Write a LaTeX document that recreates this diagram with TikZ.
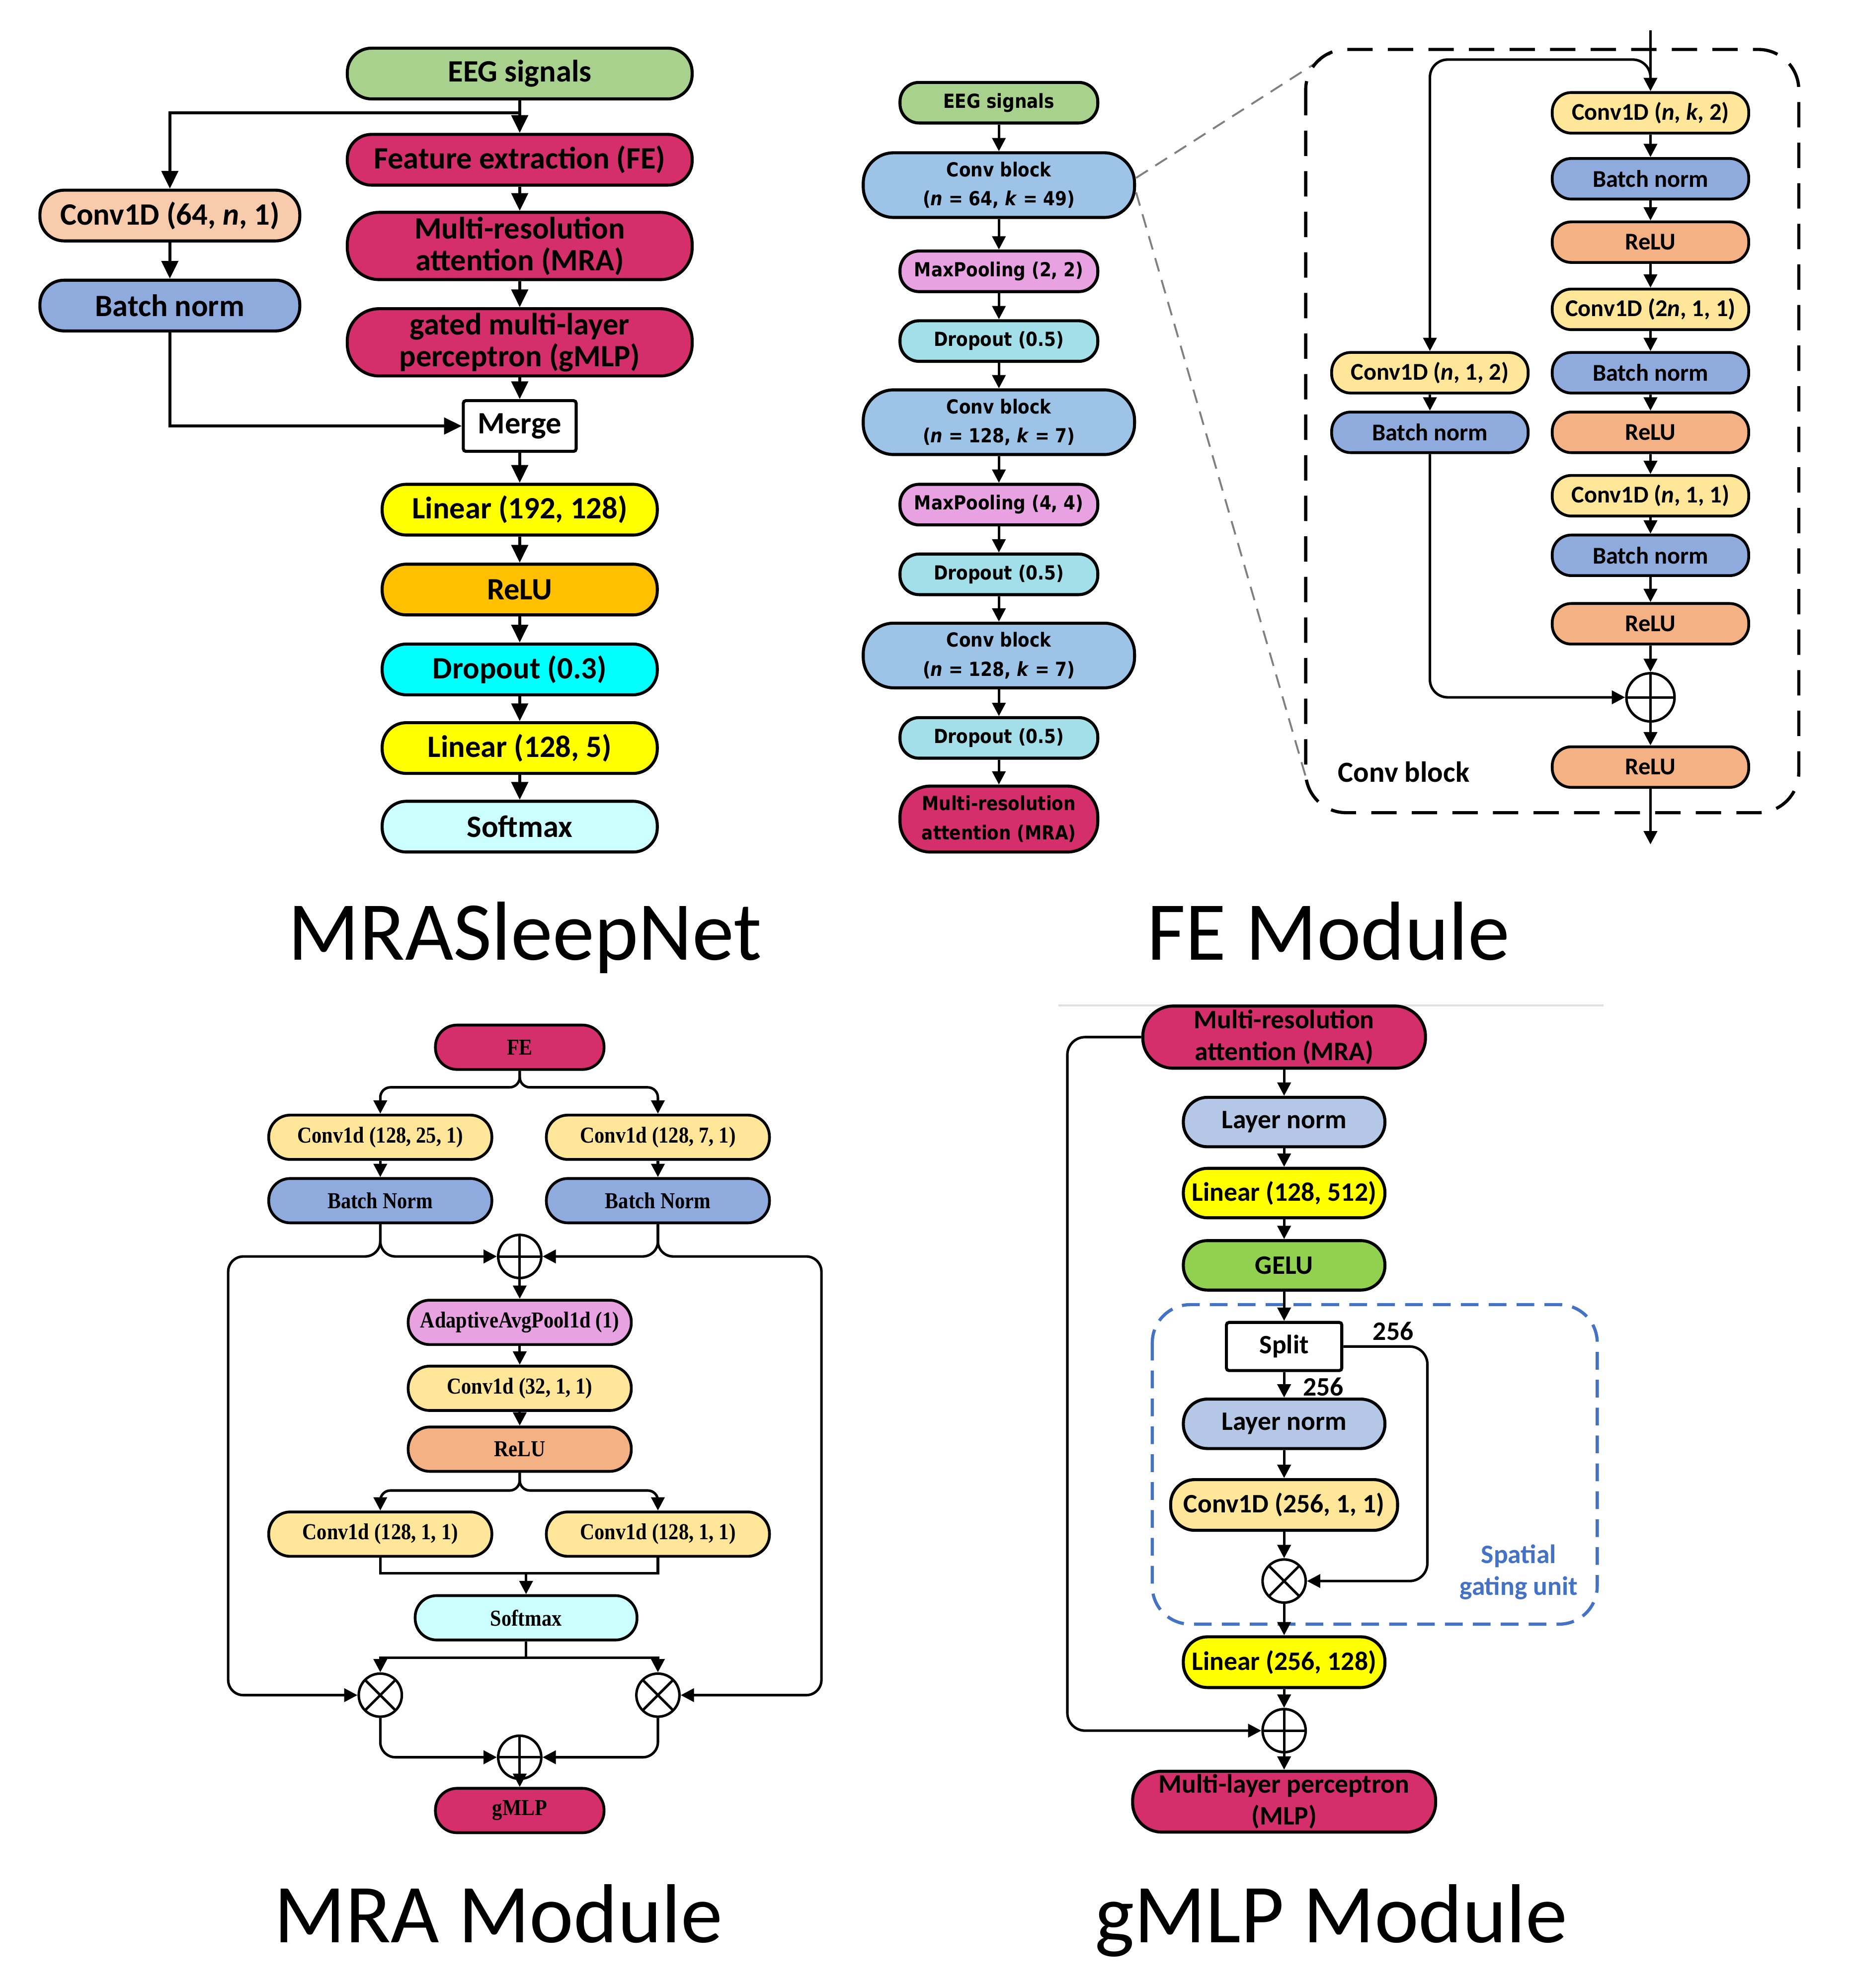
\documentclass[tikz,border=0pt]{standalone}
\usepackage{fontspec}
\usetikzlibrary{arrows.meta}
\newfontfamily\calib{Carlito}
\newfontfamily\dvsans[FakeStretch=0.88]{DejaVu Sans}
\newfontfamily\tms[FakeStretch=0.88]{Liberation Serif}

\definecolor{eeggreen}{HTML}{A9D18E}
\definecolor{crimson}{HTML}{D42F6B}
\definecolor{peach}{HTML}{F8CBAD}
\definecolor{bnblue}{HTML}{8FAADC}
\definecolor{convblue}{HTML}{9DC3E6}
\definecolor{reluorange}{HTML}{FFC000}
\definecolor{linyellow}{HTML}{FFFF00}
\definecolor{dropcyan}{HTML}{00FFFF}
\definecolor{softcyan}{HTML}{CCFFFF}
\definecolor{poolpink}{HTML}{E8A2E2}
\definecolor{dropteal}{HTML}{A3DFE8}
\definecolor{convyellow}{HTML}{FFE699}
\definecolor{relupeach}{HTML}{F4B183}
\definecolor{lnblue}{HTML}{B4C7E7}
\definecolor{gelugreen}{HTML}{92D050}
\definecolor{sgublue}{HTML}{4472C4}

\tikzset{
  pill/.style={draw=black, line width=2.4pt, inner sep=0pt, align=center, text=black},
  fA/.style={font=\calib\bfseries\fontsize{24.5pt}{25pt}\selectfont},
  fB/.style={font=\dvsans\bfseries\fontsize{15.3pt}{23pt}\selectfont},
  fC/.style={font=\calib\bfseries\fontsize{19pt}{22pt}\selectfont},
  fD/.style={font=\tms\bfseries\fontsize{18pt}{20pt}\selectfont},
  fE/.style={font=\calib\bfseries\fontsize{21pt}{25pt}\selectfont},
  ftitle/.style={font=\calib\fontsize{66pt}{70pt}\selectfont},
  pA/.style={pill, fA, minimum width=272pt, minimum height=40pt, rounded corners=19pt},
  pB/.style={pill, fB, minimum width=156pt, minimum height=32pt, rounded corners=15pt},
  pC/.style={pill, fC, line width=2.2pt, minimum width=155pt, minimum height=32pt, rounded corners=15pt},
  pD/.style={pill, fD, line width=2.2pt, minimum width=176pt, minimum height=35pt, rounded corners=17pt},
  pE/.style={pill, fE, minimum width=159pt, minimum height=39pt, rounded corners=19pt},
  arA/.style={line width=2.5pt, -{Triangle[length=14pt,width=13pt]}},
  lnA/.style={line width=2.5pt},
  arB/.style={line width=2pt, -{Triangle[length=10.5pt,width=10.5pt]}},
  lnB/.style={line width=2pt},
  sumnode/.style={draw=black, circle, line width=2pt, minimum size=#1, inner sep=0pt, fill=white,
    path picture={\draw[line width=2pt] (path picture bounding box.west) -- (path picture bounding box.east)
      (path picture bounding box.north) -- (path picture bounding box.south);}},
  sumnode/.default=34pt,
  prodnode/.style={draw=black, circle, line width=2pt, minimum size=#1, inner sep=0pt, fill=white,
    path picture={\draw[line width=2pt] (path picture bounding box.north west) -- (path picture bounding box.south east)
      (path picture bounding box.north east) -- (path picture bounding box.south west);}},
  prodnode/.default=34pt
}

\begin{document}
\begin{tikzpicture}[x=1pt, y=-1pt]
    \useasboundingbox (0,0) rectangle (1460,1568);

    % ---------------- MRASleepNet ----------------
    \node[pA, fill=eeggreen] (EEG) at (410,58) {EEG signals};
    \node[pA, fill=crimson] (FE) at (410,126) {Feature extraction (FE)};
    \node[pA, fill=crimson, minimum height=53pt, rounded corners=25pt] (MRA) at (410,194) {Multi-resolution\\attention (MRA)};
    \node[pA, fill=crimson, minimum height=53pt, rounded corners=25pt] (GMLP) at (410,270) {gated multi-layer\\perceptron (gMLP)};
    \node[pA, fill=white, minimum width=89pt, rounded corners=2pt] (Merge) at (410,336) {Merge};
    \node[pA, fill=linyellow, minimum width=217pt] (Lin1) at (410,402) {Linear (192, 128)};
    \node[pA, fill=reluorange, minimum width=217pt] (Relu) at (410,465) {ReLU};
    \node[pA, fill=dropcyan, minimum width=217pt] (Drop) at (410,528) {Dropout (0.3)};
    \node[pA, fill=linyellow, minimum width=217pt] (Lin2) at (410,590) {Linear (128, 5)};
    \node[pA, fill=softcyan, minimum width=217pt] (Soft) at (410,652) {Softmax};
    \node[pA, fill=peach, minimum width=205pt] (Conv) at (134,170) {Conv1D (64, \textit{n}, 1)};
    \node[pA, fill=bnblue, minimum width=205pt] (BN) at (134,241) {Batch norm};
    \coordinate (split0) at (410,89);

    \draw[arA] (EEG) -- (FE);
    \draw[arA] (split0) -| (Conv);
    \draw[arA] (Conv) -- (BN);
    \draw[arA] (BN) |- (Merge);
    \draw[arA] (FE) -- (MRA);
    \draw[arA] (MRA) -- (GMLP);
    \draw[arA] (GMLP) -- (Merge);
    \draw[arA] (Merge) -- (Lin1);
    \draw[arA] (Lin1) -- (Relu);
    \draw[arA] (Relu) -- (Drop);
    \draw[arA] (Drop) -- (Lin2);
    \draw[arA] (Lin2) -- (Soft);

    \node[ftitle, anchor=base] (tMain) at (414,757) {MRASleepNet};

    % ---------------- FE Module ----------------
    \node[pB, fill=eeggreen] (FEin) at (788,81) {EEG signals};
    \node[pB, fill=convblue, minimum width=214pt, minimum height=51pt, rounded corners=24pt] (CB1) at (788,146) {Conv block\\(\textit{n} = 64, \textit{k} = 49)};
    \node[pB, fill=poolpink] (MP1) at (788,214) {MaxPooling (2, 2)};
    \node[pB, fill=dropteal] (DO1) at (788,269) {Dropout (0.5)};
    \node[pB, fill=convblue, minimum width=214pt, minimum height=51pt, rounded corners=24pt] (CB2) at (788,333) {Conv block\\(\textit{n} = 128, \textit{k} = 7)};
    \node[pB, fill=poolpink] (MP2) at (788,398) {MaxPooling (4, 4)};
    \node[pB, fill=dropteal] (DO2) at (788,453) {Dropout (0.5)};
    \node[pB, fill=convblue, minimum width=214pt, minimum height=51pt, rounded corners=24pt] (CB3) at (788,517) {Conv block\\(\textit{n} = 128, \textit{k} = 7)};
    \node[pB, fill=dropteal] (DO3) at (788,582) {Dropout (0.5)};
    \node[pB, fill=crimson, minimum height=52pt, rounded corners=24pt] (FEout) at (788,646) {Multi-resolution\\attention (MRA)};

    \draw[arB] (FEin) -- (CB1);
    \draw[arB] (CB1) -- (MP1);
    \draw[arB] (MP1) -- (DO1);
    \draw[arB] (DO1) -- (CB2);
    \draw[arB] (CB2) -- (MP2);
    \draw[arB] (MP2) -- (DO2);
    \draw[arB] (DO2) -- (CB3);
    \draw[arB] (CB3) -- (DO3);
    \draw[arB] (DO3) -- (FEout);

    % zoom lines to the conv block
    \coordinate (zoomA) at (1050,42);
    \coordinate (zoomB) at (1031,616);
    \draw[gray, line width=1.5pt, dash pattern=on 11pt off 7pt] (CB1.3) -- (zoomA);
    \draw[gray, line width=1.5pt, dash pattern=on 11pt off 7pt] (CB1.-3) -- (zoomB);

    % Conv block frame
    \draw[line width=2.5pt, dash pattern=on 20pt off 12pt, rounded corners=32pt] (1030,39) rectangle (1419,641);

    % Conv block, main path
    \node[pC, fill=convyellow] (K1) at (1302,89) {Conv1D (\textit{n}, \textit{k}, 2)};
    \node[pC, fill=bnblue] (K2) at (1302,141) {Batch norm};
    \node[pC, fill=relupeach] (K3) at (1302,191) {ReLU};
    \node[pC, fill=convyellow] (K4) at (1302,244) {Conv1D (2\textit{n}, 1, 1)};
    \node[pC, fill=bnblue] (K5) at (1302,294) {Batch norm};
    \node[pC, fill=relupeach] (K6) at (1302,341) {ReLU};
    \node[pC, fill=convyellow] (K7) at (1302,391) {Conv1D (\textit{n}, 1, 1)};
    \node[pC, fill=bnblue] (K8) at (1302,438) {Batch norm};
    \node[pC, fill=relupeach] (K9) at (1302,492) {ReLU};
    \node[sumnode=38pt] (Ksum) at (1302,550) {};
    \node[pC, fill=relupeach] (K10) at (1302,605) {ReLU};

    % Conv block, shortcut
    \node[pC, fill=convyellow] (L1) at (1128,294) {Conv1D (\textit{n}, 1, 2)};
    \node[pC, fill=bnblue] (L2) at (1128,341) {Batch norm};

    \node[fC, font=\calib\bfseries\fontsize{23pt}{25pt}\selectfont, anchor=west] (cbLabel) at (1052,609) {Conv block};

    \coordinate (cbIn) at (1302,24);
    \coordinate (cbSplit) at (1302,66);
    \coordinate (cbTurn) at (1128,47);
    \coordinate (cbOut) at (1302,666);

    \draw[arB] (cbIn) -- (K1);
    \draw[arB, rounded corners=14pt] (cbSplit) |- (cbTurn) -- (L1);
    \draw[arB] (K1) -- (K2);
    \draw[arB] (K2) -- (K3);
    \draw[arB] (K3) -- (K4);
    \draw[arB] (K4) -- (K5);
    \draw[arB] (K5) -- (K6);
    \draw[arB] (K6) -- (K7);
    \draw[arB] (K7) -- (K8);
    \draw[arB] (K8) -- (K9);
    \draw[arB] (K9) -- (Ksum);
    \draw[arB] (Ksum) -- (K10);
    \draw[arB] (K10) -- (cbOut);
    \draw[arB] (L1) -- (L2);
    \draw[arB, rounded corners=14pt] (L2) |- (Ksum);

    \node[ftitle, anchor=base] (tFE) at (1048,757) {FE Module};

    % ---------------- MRA Module ----------------
    \node[pD, fill=crimson, minimum width=133pt] (mFE) at (410,826) {FE};
    \node[pD, fill=convyellow] (mC1) at (300,897) {Conv1d (128, 25, 1)};
    \node[pD, fill=convyellow] (mC2) at (519,897) {Conv1d (128, 7, 1)};
    \node[pD, fill=bnblue] (mB1) at (300,947) {Batch Norm};
    \node[pD, fill=bnblue] (mB2) at (519,947) {Batch Norm};
    \node[sumnode] (mSum1) at (410,991) {};
    \node[pD, fill=poolpink] (mPool) at (410,1043) {AdaptiveAvgPool1d (1)};
    \node[pD, fill=convyellow] (mC5) at (410,1095) {Conv1d (32, 1, 1)};
    \node[pD, fill=relupeach] (mRelu) at (410,1143) {ReLU};
    \node[pD, fill=convyellow] (mC3) at (300,1210) {Conv1d (128, 1, 1)};
    \node[pD, fill=convyellow] (mC4) at (519,1210) {Conv1d (128, 1, 1)};
    \node[pD, fill=softcyan, minimum width=175pt] (mSoft) at (415,1276) {Softmax};
    \node[prodnode] (mProdL) at (300,1337) {};
    \node[prodnode] (mProdR) at (519,1337) {};
    \node[sumnode] (mSum2) at (410,1386) {};
    \node[pD, fill=crimson, minimum width=133pt] (mOut) at (410,1428) {gMLP};

    \coordinate (mLoopL) at (180,991);
    \coordinate (mLoopR) at (648,991);
    \coordinate (mJoin) at (415,1241);

    \draw[arB, rounded corners=8pt] (mFE.south) -- ++(0,13) -| (mC1.north);
    \draw[arB, rounded corners=8pt] (mFE.south) -- ++(0,13) -| (mC2.north);
    \draw[arB] (mC1) -- (mB1);
    \draw[arB] (mC2) -- (mB2);
    \draw[arB, rounded corners=12pt] (mB1.south) |- (mSum1.west);
    \draw[arB, rounded corners=12pt] (mB2.south) |- (mSum1.east);
    \draw[arB, rounded corners=12pt] (mB1.south) |- (mLoopL) |- (mProdL.west);
    \draw[arB, rounded corners=12pt] (mB2.south) |- (mLoopR) |- (mProdR.east);
    \draw[arB] (mSum1) -- (mPool);
    \draw[arB] (mPool) -- (mC5);
    \draw[arB] (mC5) -- (mRelu);
    \draw[arB, rounded corners=8pt] (mRelu.south) -- ++(0,14) -| (mC3.north);
    \draw[arB, rounded corners=8pt] (mRelu.south) -- ++(0,14) -| (mC4.north);
    \draw[lnB] (mC3.south) |- (mJoin) -| (mC4.south);
    \draw[arB] (mJoin) -- (mSoft);
    \draw[arB] (mSoft.south) -- ++(0,13) -| (mProdL.north);
    \draw[arB] (mSoft.south) -- ++(0,13) -| (mProdR.north);
    \draw[arB, rounded corners=12pt] (mProdL.south) |- (mSum2.west);
    \draw[arB, rounded corners=12pt] (mProdR.south) |- (mSum2.east);
    \draw[arB] (mSum2) -- (mOut);

    \node[ftitle, anchor=base] (tMRA) at (393,1532) {MRA Module};

    % ---------------- gMLP Module ----------------
    \coordinate (gTopL) at (835,793);
    \coordinate (gTopR) at (1265,793);
    \draw[black!12, line width=1.2pt] (gTopL) -- (gTopR);

    % Spatial gating unit frame
    \draw[sgublue, line width=2.5pt, dash pattern=on 14pt off 8pt, rounded corners=30pt] (909,1029) rectangle (1260,1281);

    \node[pE, fill=crimson, minimum width=223pt, minimum height=49pt, rounded corners=24pt] (gMRA) at (1013,818) {Multi-resolution\\attention (MRA)};
    \node[pE, fill=lnblue] (gLN1) at (1013,885) {Layer norm};
    \node[pE, fill=linyellow] (gLin1) at (1013,941) {Linear (128, 512)};
    \node[pE, fill=gelugreen] (gGelu) at (1013,998) {GELU};
    \node[pE, fill=white, minimum width=91pt, minimum height=38pt, rounded corners=2pt] (gSplit) at (1013,1062) {Split};
    \node[pE, fill=lnblue] (gLN2) at (1013,1123) {Layer norm};
    \node[pE, fill=convyellow, minimum width=179pt, minimum height=40pt] (gConv) at (1013,1187) {Conv1D (256, 1, 1)};
    \node[prodnode] (gProd) at (1013,1247) {};
    \node[pE, fill=linyellow, minimum height=40pt] (gLin2) at (1013,1311) {Linear (256, 128)};
    \node[sumnode] (gSum) at (1013,1365) {};
    \node[pE, fill=crimson, minimum width=239pt, minimum height=48pt, rounded corners=23pt] (gMLP) at (1013,1421) {Multi-layer perceptron\\(MLP)};

    \node[fE] (gLblA) at (1099,1050) {256};
    \node[fE] (gLblB) at (1044,1094) {256};
    \node[fE, text=sgublue, align=center] (gSGU) at (1198,1240) {Spatial\\gating unit};

    \coordinate (gLoop) at (842,1365);
    \coordinate (gGate) at (1126,1247);

    \draw[arB] (gMRA) -- (gLN1);
    \draw[arB] (gLN1) -- (gLin1);
    \draw[arB] (gLin1) -- (gGelu);
    \draw[arB] (gGelu) -- (gSplit);
    \draw[arB] (gSplit) -- (gLN2);
    \draw[arB] (gLN2) -- (gConv);
    \draw[arB] (gConv) -- (gProd);
    \draw[arB] (gProd) -- (gLin2);
    \draw[arB] (gLin2) -- (gSum);
    \draw[arB] (gSum) -- (gMLP);
    \draw[arB, rounded corners=14pt] (gMRA.west) -| (gLoop) -- (gSum.west);
    \draw[arB, rounded corners=14pt] (gSplit.east) -| (gGate) -- (gProd.east);

    \node[ftitle, anchor=base] (tGMLP) at (1050,1532) {gMLP Module};

\end{tikzpicture}
\end{document}
